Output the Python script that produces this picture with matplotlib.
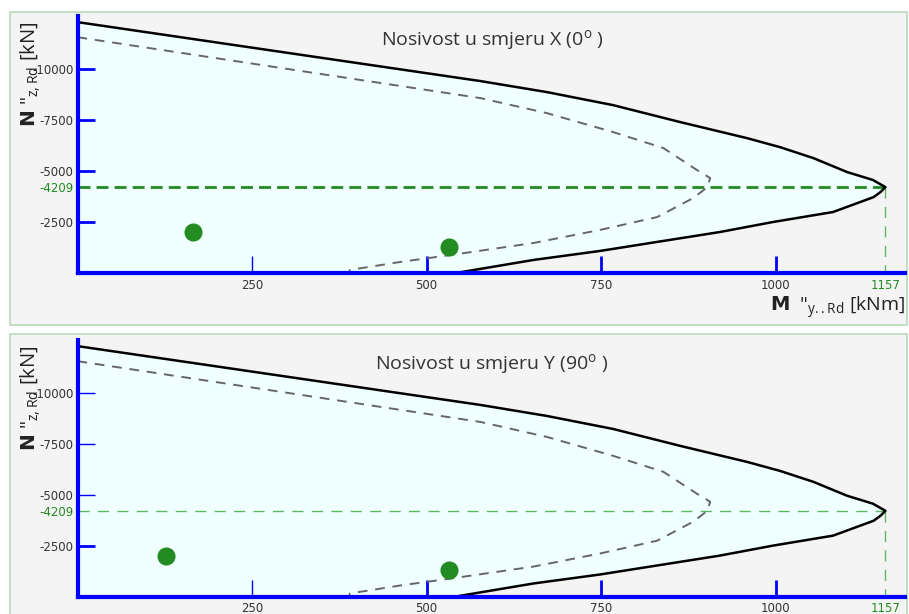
import matplotlib.pyplot as plt
import matplotlib.patches as patches
import numpy as np

# interaction diagram (outer = design resistance, inner dashed)
m_outer = [0, 577, 672, 767, 863, 959, 1006, 1054, 1102, 1139, 1157, 1150, 1140, 1082, 996, 920, 748, 653, 542, 0]
n_outer = [-12300, -9410, -8870, -8230, -7400, -6610, -6170, -5630, -4950, -4560, -4209, -3970, -3720, -2990,
           -2500, -2010, -1080, -640, 0, 0]
m_inner = [0, 577, 672, 767, 839, 887, 906, 902, 882, 830, 748, 653, 534, 462, 390, 389, 0]
n_inner = [-11560, -8575, -7840, -6910, -6125, -5050, -4655, -4209, -3680, -2740, -2110, -1470, -880, -540,
           -150, 0, 0]

m_max = 1157
n_at_mmax = -4209

# load points
m_pts_x = [165, 532]
n_pts_x = [-2010, -1260]
m_pts_y = [127, 532]
n_pts_y = [-2000, -1290]

xticks = [250, 500, 750, 1000]
yticks = [-10000, -7500, -5000, -2500]

titles = ["Nosivost u smjeru X (0$^{\\mathregular{o}}$ )",
          "Nosivost u smjeru Y (90$^{\\mathregular{o}}$ )"]

W, H = 909, 614
fig = plt.figure(figsize=(W / 100, H / 100), dpi=100)
fig.patch.set_facecolor("white")

green = "#228b22"
lightgreen = "#5cb85c"
blue = "#0000ff"
tickfont = dict(family=["Liberation Sans Narrow", "DejaVu Sans"], size=8.5, color="#333333")

# panel backgrounds (pixel boxes: x0, y0_top, x1, y1_bottom)
for (x0, y0, x1, y1) in [(10, 12, 907, 325), (10, 334, 907, 625)]:
    fig.patches.append(patches.Rectangle((x0 / W, 1 - y1 / H), (x1 - x0) / W, (y1 - y0) / H,
                                         transform=fig.transFigure, facecolor="#f4f4f4",
                                         edgecolor="#b9d9b9", linewidth=1.2, zorder=-5))


def make_panel(ax, title, mx, ny, top):
    ax.set_zorder(2)
    ax.set_facecolor("none")
    ax.fill(m_outer, n_outer, color="#f0ffff", zorder=1)
    ax.plot(m_outer, n_outer, color="black", lw=1.8, zorder=3, solid_joinstyle="round")
    ax.plot(m_inner, n_inner, color="#666666", lw=1.4, ls=(0, (5, 4)), zorder=3)
    if top:
        ax.plot([0, m_max], [n_at_mmax, n_at_mmax], color=green, lw=2, ls=(0, (4.3, 2.2)), zorder=2)
    else:
        ax.plot([0, m_max], [n_at_mmax, n_at_mmax], color=lightgreen, lw=1.0, ls=(0, (8, 6)), zorder=2)
    ax.plot([m_max, m_max], [n_at_mmax, 0], color=lightgreen, lw=1.0, ls=(0, (8, 6)), zorder=2)
    ax.plot(mx, ny, "o", color=green, ms=12, zorder=4)
    ax.set_xlim(0, 1185)
    ax.set_ylim(0, -12600)
    for s in ["top", "right"]:
        ax.spines[s].set_visible(False)
    for s in ["left", "bottom"]:
        ax.spines[s].set_color(blue)
        ax.spines[s].set_linewidth(3)
        ax.spines[s].set_zorder(5)
    ax.set_xticks(xticks + [m_max])
    ax.set_xticklabels([str(v) for v in xticks] + [str(m_max)], **tickfont)
    ax.set_yticks(yticks + [n_at_mmax])
    ax.set_yticklabels([str(v) for v in yticks] + [str(n_at_mmax)], **tickfont)
    ax.tick_params(axis="x", direction="in", length=12, width=2, color=blue, pad=4)
    ax.tick_params(axis="y", direction="in", length=12, width=2, color=blue, pad=3)
    ax.get_xticklabels()[-1].set_color(green)
    ax.get_yticklabels()[-1].set_color(green)
    ax.xaxis.get_major_ticks()[-1].tick1line.set_visible(False)
    ax.yaxis.get_major_ticks()[-1].tick1line.set_visible(False)
    # thinner tick marks where the original has them
    ax.xaxis.get_major_ticks()[0].tick1line.set_markeredgewidth(1)
    if not top:
        for t in ax.yaxis.get_major_ticks()[:3]:
            t.tick1line.set_markeredgewidth(1)
    ax.text(0.501, 0.905, title, transform=ax.transAxes, ha="center", va="center",
            fontsize=14, color="#333333", family="Open Sans")


ax1 = fig.add_axes([77.5 / W, 1 - 273 / H, (905 - 77.5) / W, (273 - 16) / H])
ax2 = fig.add_axes([77.5 / W, 1 - 596.5 / H, (905 - 77.5) / W, (596.5 - 340) / H])
make_panel(ax1, titles[0], m_pts_x, n_pts_x, True)
make_panel(ax2, titles[1], m_pts_y, n_pts_y, False)

ylab = '$\\mathbf{N}$ "$_{\\mathregular{z,Rd}}$ [kN]'
for ytop in [12, 336]:
    fig.text(31 / W, 1 - (ytop + 62) / H, ylab, rotation=90, ha="center", va="center",
             fontsize=14.5, color="#222222", family="Open Sans", zorder=6)

fig.text(905 / W, 1 - 312 / H, '$\\mathbf{M}$  "$_{\\mathregular{y..Rd}}$ [kNm]', ha="right", va="baseline",
         fontsize=14, color="#222222", family="Open Sans")

plt.savefig("out.png", dpi=100)
